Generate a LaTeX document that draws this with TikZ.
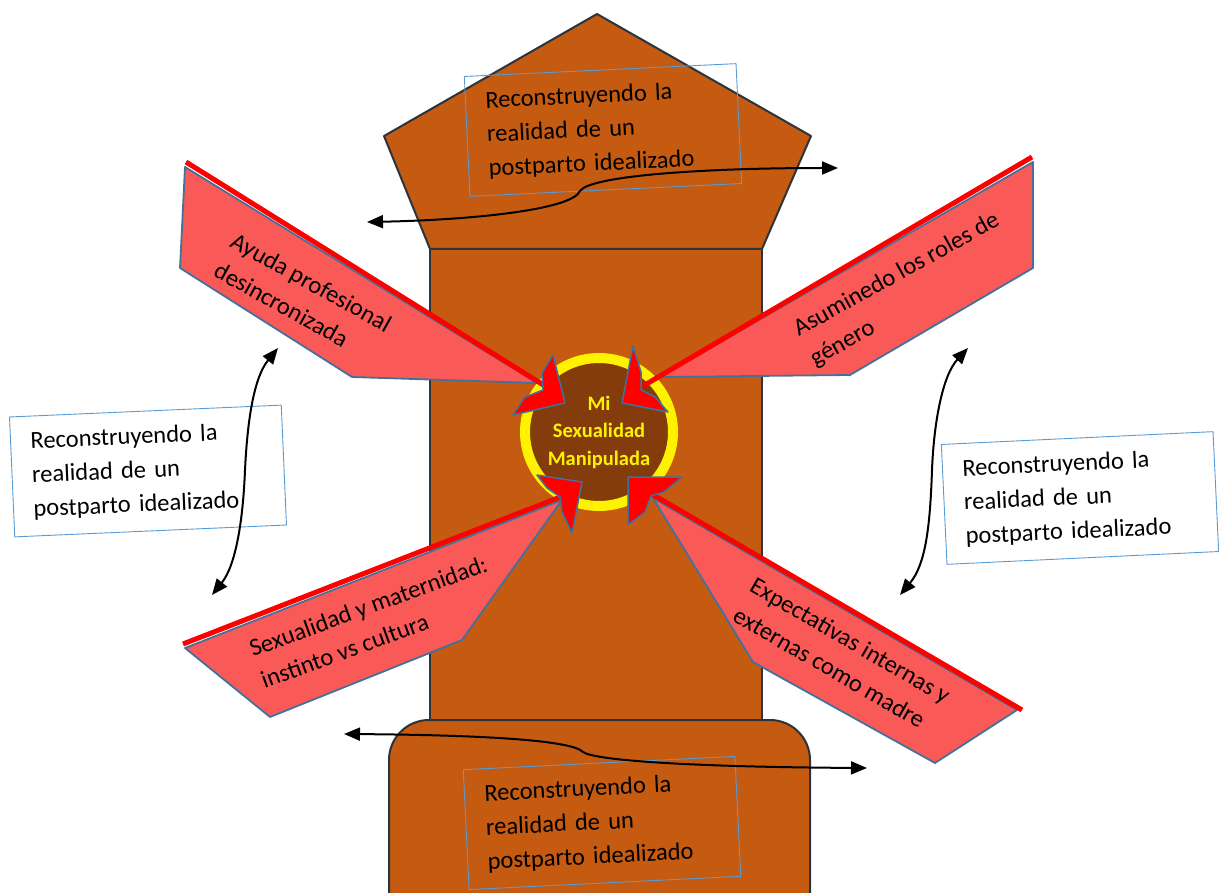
\documentclass[tikz,border=0pt]{standalone}
\usepackage{fontspec}
\setmainfont{Carlito}
\usetikzlibrary{arrows.meta}
\definecolor{rust}{HTML}{C55A11}
\definecolor{darkrust}{HTML}{843C0C}
\definecolor{edgegrey}{HTML}{2B333D}
\definecolor{salmonred}{HTML}{FA5A57}
\definecolor{steelblue}{HTML}{41719C}
\definecolor{boxblue}{HTML}{5B9BD5}
\begin{document}
\begin{tikzpicture}[x=1pt, y=-1pt, line join=round,
	shapefill/.style={fill=rust, draw=edgegrey, line width=2pt},
	bandfill/.style={fill=salmonred, draw=steelblue, line width=1.8pt},
	redband/.style={red, line width=5pt},
	pointer/.style={fill=red, draw=steelblue, line width=1.5pt},
	note/.style={draw=boxblue, line width=0.9pt, minimum width=272pt, minimum height=120pt, text width=232pt, inner xsep=20pt, align=left, font=\fontsize{24.5}{34}\selectfont},
	bandtext/.style={align=left, font=\fontsize{24.5}{34}\selectfont},
	twoway/.style={{Triangle[length=16pt,width=13pt]}-{Triangle[length=16pt,width=13pt]}, line width=2pt}]
	\useasboundingbox (0,0) rectangle (1219,893);
	\draw [shapefill] (597,14) -- (811,136) -- (762,249) -- (430,249) -- (384,136) -- cycle;
	\draw [shapefill] (430,249) rectangle (762,720);
	\draw [shapefill, rounded corners=40pt] (389,720) rectangle (810,940);
	\node [note, rotate=2.7] (noteTop) at (603,130) {Reconstruyendo la\\realidad de un\\postparto idealizado};
	\node [note, rotate=2.8] (noteBottom) at (602,823) {Reconstruyendo la\\realidad de un\\postparto idealizado};
	\node [circle, fill=darkrust, draw=yellow, line width=10pt, minimum size=148pt, inner sep=0pt, align=center, text=yellow, font=\bfseries\fontsize{20.5}{27.5}\selectfont] (core) at (599,432) {Mi\\Sexualidad\\Manipulada};
	\draw [bandfill] (185,167) -- (537,383) -- (352,377) -- (180,268) -- cycle;
	\draw [redband] (186,162) -- (545,386);
	\draw [bandfill] (1033,162) -- (1033,268) -- (850,375) -- (660,377) -- cycle;
	\draw [redband] (1032,157) -- (643,386);
	\draw [bandfill] (185,648) -- (562,500) -- (462,640) -- (270,717) -- cycle;
	\draw [redband] (183,644) -- (563,496);
	\draw [bandfill] (653,498) -- (1017,710) -- (935,763) -- (753,662) -- cycle;
	\draw [redband] (650,493) -- (1022,710);
	\draw [pointer] (553,355) -- (565,403) -- (513,415) -- (525,397) -- (543,390) -- (542,373) -- cycle;
	\draw [pointer] (633,346) -- (622,403) -- (668,412) -- (655,397) -- (641,390) -- (641,372) -- cycle;
	\draw [pointer] (537,475) -- (582,482) -- (572,533) -- (562,512) -- (560,497) -- (547,488) -- cycle;
	\draw [pointer] (628,477) -- (682,477) -- (664,492) -- (651,496) -- (645,512) -- (628,525) -- cycle;
	\node [bandtext, rotate=-29] (helpText) at (303,297) {Ayuda profesional\\desincronizada};
	\node [bandtext, rotate=29] (rolesText) at (905,290) {Asuminedo los roles de\\género};
	\node [bandtext, rotate=20] (instinctText) at (374,622) {Sexualidad y maternidad:\\instinto vs cultura};
	\node [bandtext, rotate=-30] (motherText) at (842,655) {Expectativas internas y\\externas como madre};
	\node [note, fill=white, rotate=2.5] (noteLeft) at (148,471) {Reconstruyendo la\\realidad de un\\postparto idealizado};
	\node [note, fill=white, rotate=2.7] (noteRight) at (1080,498) {Reconstruyendo la\\realidad de un\\postparto idealizado};
	\coordinate (topL) at (367,222);
	\coordinate (topR) at (838,168);
	\coordinate (botL) at (344,734);
	\coordinate (botR) at (867,768);
	\coordinate (leftT) at (278,348);
	\coordinate (leftB) at (212,595);
	\coordinate (rightT) at (968,348);
	\coordinate (rightB) at (900,595);
	\draw [twoway] (topL) .. controls (470,220) and (572,210) .. (580,191) .. controls (590,176) and (700,168) .. (topR);
	\draw [twoway] (botL) .. controls (480,735) and (572,740) .. (583,752) .. controls (596,761) and (700,767) .. (botR);
	\draw [twoway] (leftT) .. controls (252,380) and (247,430) .. (245,470) .. controls (243,520) and (236,565) .. (leftB);
	\draw [twoway] (rightT) .. controls (943,375) and (934,420) .. (932,470) .. controls (930,530) and (925,565) .. (rightB);
\end{tikzpicture}
\end{document}
